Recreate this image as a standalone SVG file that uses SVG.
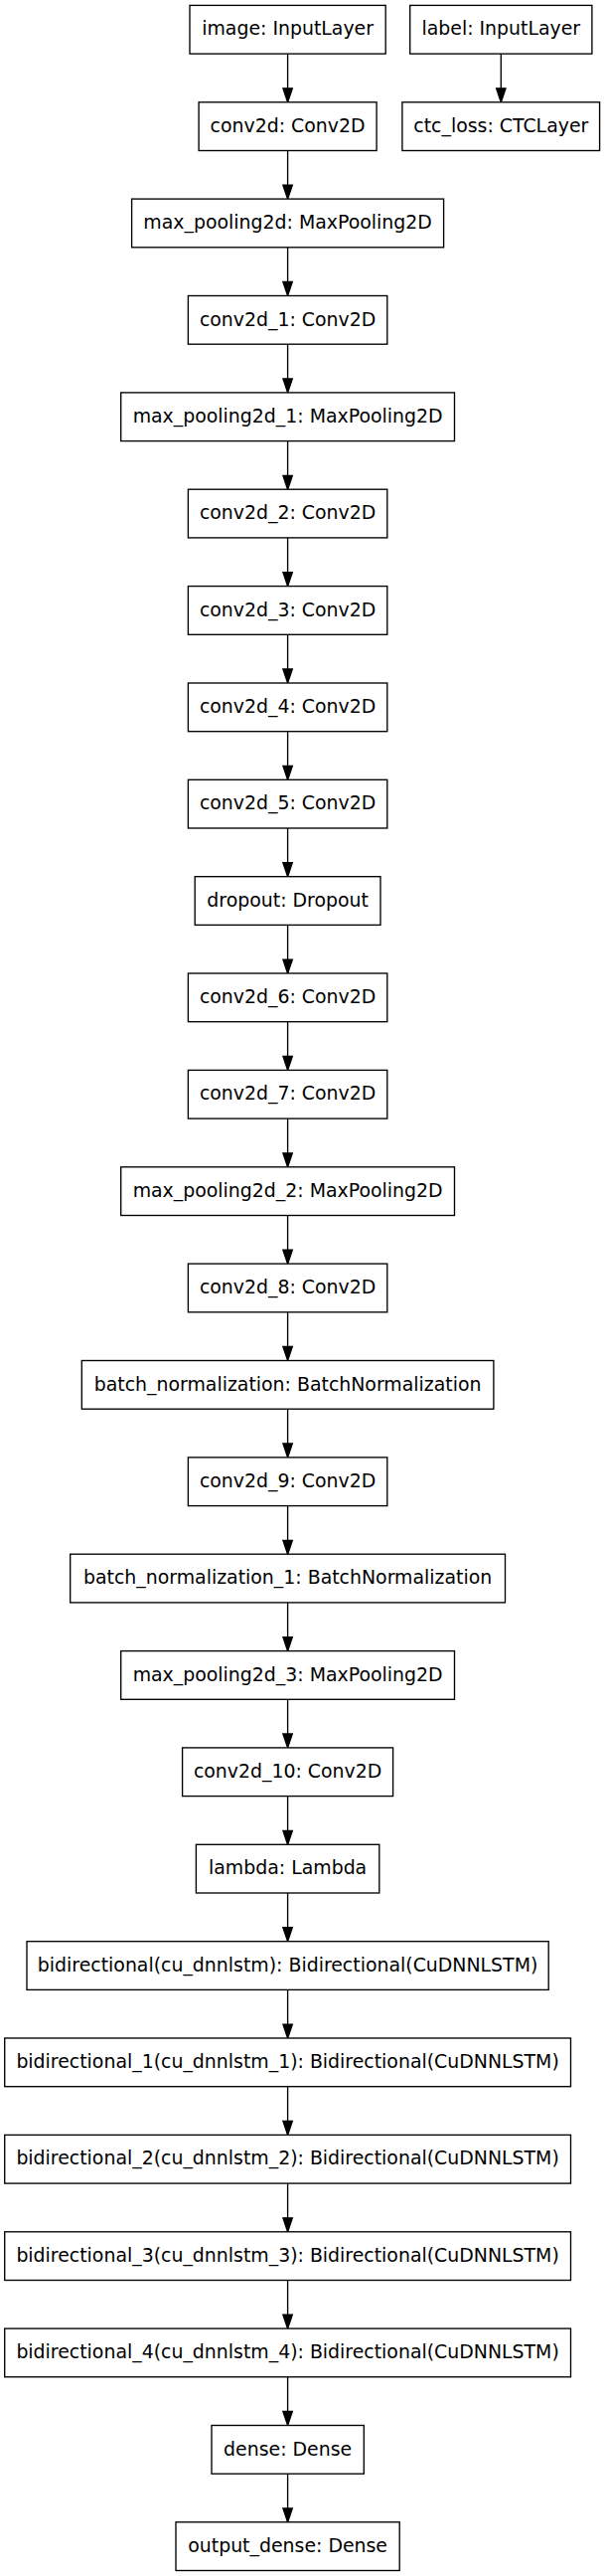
<svg xmlns="http://www.w3.org/2000/svg" width="609" height="2591" viewBox="0 0 609 2591">
<defs>
<style>
rect{fill:#fff;stroke:#000;stroke-width:1.35}
text{font-family:"DejaVu Sans","Liberation Sans",sans-serif;font-size:18.9px;fill:#000;text-anchor:middle}
.e line{stroke:#000;stroke-width:1.35}
.e polygon{fill:#000;stroke:#000;stroke-width:1.35}
</style>
</defs>
<rect x="0" y="0" width="609" height="2591" style="fill:#fff;stroke:none"/>
<g class="e" id="edges">
<line x1="289.6" y1="54.1" x2="289.6" y2="88.8"/><polygon points="284.9,88.8 289.6,102.8 294.3,88.8"/>
<line x1="504.3" y1="54.1" x2="504.3" y2="88.8"/><polygon points="499.6,88.8 504.3,102.8 509,88.8"/>
<line x1="289.6" y1="151.5" x2="289.6" y2="186.2"/><polygon points="284.9,186.2 289.6,200.2 294.3,186.2"/>
<line x1="289.6" y1="248.8" x2="289.6" y2="283.5"/><polygon points="284.9,283.5 289.6,297.5 294.3,283.5"/>
<line x1="289.6" y1="346.2" x2="289.6" y2="380.9"/><polygon points="284.9,380.9 289.6,394.9 294.3,380.9"/>
<line x1="289.6" y1="443.6" x2="289.6" y2="478.3"/><polygon points="284.9,478.3 289.6,492.3 294.3,478.3"/>
<line x1="289.6" y1="540.9" x2="289.6" y2="575.6"/><polygon points="284.9,575.6 289.6,589.6 294.3,575.6"/>
<line x1="289.6" y1="638.3" x2="289.6" y2="673"/><polygon points="284.9,673 289.6,687 294.3,673"/>
<line x1="289.6" y1="735.7" x2="289.6" y2="770.4"/><polygon points="284.9,770.4 289.6,784.4 294.3,770.4"/>
<line x1="289.6" y1="833" x2="289.6" y2="867.7"/><polygon points="284.9,867.7 289.6,881.7 294.3,867.7"/>
<line x1="289.6" y1="930.4" x2="289.6" y2="965.1"/><polygon points="284.9,965.1 289.6,979.1 294.3,965.1"/>
<line x1="289.6" y1="1027.7" x2="289.6" y2="1062.4"/><polygon points="284.9,1062.4 289.6,1076.4 294.3,1062.4"/>
<line x1="289.6" y1="1125.1" x2="289.6" y2="1159.8"/><polygon points="284.9,1159.8 289.6,1173.8 294.3,1159.8"/>
<line x1="289.6" y1="1222.5" x2="289.6" y2="1257.2"/><polygon points="284.9,1257.2 289.6,1271.2 294.3,1257.2"/>
<line x1="289.6" y1="1319.8" x2="289.6" y2="1354.5"/><polygon points="284.9,1354.5 289.6,1368.5 294.3,1354.5"/>
<line x1="289.6" y1="1417.2" x2="289.6" y2="1451.9"/><polygon points="284.9,1451.9 289.6,1465.9 294.3,1451.9"/>
<line x1="289.6" y1="1514.6" x2="289.6" y2="1549.3"/><polygon points="284.9,1549.3 289.6,1563.3 294.3,1549.3"/>
<line x1="289.6" y1="1611.9" x2="289.6" y2="1646.6"/><polygon points="284.9,1646.6 289.6,1660.6 294.3,1646.6"/>
<line x1="289.6" y1="1709.3" x2="289.6" y2="1744"/><polygon points="284.9,1744 289.6,1758 294.3,1744"/>
<line x1="289.6" y1="1806.6" x2="289.6" y2="1841.3"/><polygon points="284.9,1841.3 289.6,1855.3 294.3,1841.3"/>
<line x1="289.6" y1="1904" x2="289.6" y2="1938.7"/><polygon points="284.9,1938.7 289.6,1952.7 294.3,1938.7"/>
<line x1="289.6" y1="2001.4" x2="289.6" y2="2036.1"/><polygon points="284.9,2036.1 289.6,2050.1 294.3,2036.1"/>
<line x1="289.6" y1="2098.7" x2="289.6" y2="2133.4"/><polygon points="284.9,2133.4 289.6,2147.4 294.3,2133.4"/>
<line x1="289.6" y1="2196.1" x2="289.6" y2="2230.8"/><polygon points="284.9,2230.8 289.6,2244.8 294.3,2230.8"/>
<line x1="289.6" y1="2293.5" x2="289.6" y2="2328.2"/><polygon points="284.9,2328.2 289.6,2342.2 294.3,2328.2"/>
<line x1="289.6" y1="2390.8" x2="289.6" y2="2425.5"/><polygon points="284.9,2425.5 289.6,2439.5 294.3,2425.5"/>
<line x1="289.6" y1="2488.2" x2="289.6" y2="2522.9"/><polygon points="284.9,2522.9 289.6,2536.9 294.3,2522.9"/>
</g>
<g id="image"><rect x="191" y="5.4" width="197.2" height="48.7"/><text x="289.6" y="35.4">image: InputLayer</text></g>
<g id="label"><rect x="412.7" y="5.4" width="183.2" height="48.7"/><text x="504.3" y="35.4">label: InputLayer</text></g>
<g id="conv2d"><rect x="200.1" y="102.8" width="179" height="48.7"/><text x="289.6" y="132.8">conv2d: Conv2D</text></g>
<g id="ctc_loss"><rect x="404.9" y="102.8" width="198.7" height="48.7"/><text x="504.3" y="132.8">ctc_loss: CTCLayer</text></g>
<g id="max_pooling2d"><rect x="132.6" y="200.1" width="314" height="48.7"/><text x="289.6" y="230.1">max_pooling2d: MaxPooling2D</text></g>
<g id="conv2d_1"><rect x="189.4" y="297.5" width="200.4" height="48.7"/><text x="289.6" y="327.5">conv2d_1: Conv2D</text></g>
<g id="max_pooling2d_1"><rect x="121.7" y="394.9" width="335.8" height="48.7"/><text x="289.6" y="424.9">max_pooling2d_1: MaxPooling2D</text></g>
<g id="conv2d_2"><rect x="189.4" y="492.2" width="200.4" height="48.7"/><text x="289.6" y="522.2">conv2d_2: Conv2D</text></g>
<g id="conv2d_3"><rect x="189.4" y="589.6" width="200.4" height="48.7"/><text x="289.6" y="619.6">conv2d_3: Conv2D</text></g>
<g id="conv2d_4"><rect x="189.4" y="687" width="200.4" height="48.7"/><text x="289.6" y="717">conv2d_4: Conv2D</text></g>
<g id="conv2d_5"><rect x="189.4" y="784.3" width="200.4" height="48.7"/><text x="289.6" y="814.3">conv2d_5: Conv2D</text></g>
<g id="dropout"><rect x="196.2" y="881.7" width="186.8" height="48.7"/><text x="289.6" y="911.7">dropout: Dropout</text></g>
<g id="conv2d_6"><rect x="189.4" y="979" width="200.4" height="48.7"/><text x="289.6" y="1009">conv2d_6: Conv2D</text></g>
<g id="conv2d_7"><rect x="189.4" y="1076.4" width="200.4" height="48.7"/><text x="289.6" y="1106.4">conv2d_7: Conv2D</text></g>
<g id="max_pooling2d_2"><rect x="121.7" y="1173.8" width="335.8" height="48.7"/><text x="289.6" y="1203.8">max_pooling2d_2: MaxPooling2D</text></g>
<g id="conv2d_8"><rect x="189.4" y="1271.1" width="200.4" height="48.7"/><text x="289.6" y="1301.1">conv2d_8: Conv2D</text></g>
<g id="batch_normalization"><rect x="82.3" y="1368.5" width="414.6" height="48.7"/><text x="289.6" y="1398.5">batch_normalization: BatchNormalization</text></g>
<g id="conv2d_9"><rect x="189.4" y="1465.9" width="200.4" height="48.7"/><text x="289.6" y="1495.9">conv2d_9: Conv2D</text></g>
<g id="batch_normalization_1"><rect x="70.7" y="1563.2" width="437.8" height="48.7"/><text x="289.6" y="1593.2">batch_normalization_1: BatchNormalization</text></g>
<g id="max_pooling2d_3"><rect x="121.7" y="1660.6" width="335.8" height="48.7"/><text x="289.6" y="1690.6">max_pooling2d_3: MaxPooling2D</text></g>
<g id="conv2d_10"><rect x="183.6" y="1757.9" width="212" height="48.7"/><text x="289.6" y="1787.9">conv2d_10: Conv2D</text></g>
<g id="lambda"><rect x="197.4" y="1855.3" width="184.4" height="48.7"/><text x="289.6" y="1885.3">lambda: Lambda</text></g>
<g id="bidirectional"><rect x="27" y="1952.7" width="525.2" height="48.7"/><text x="289.6" y="1982.7">bidirectional(cu_dnnlstm): Bidirectional(CuDNNLSTM)</text></g>
<g id="bidirectional_1"><rect x="4.7" y="2050" width="569.8" height="48.7"/><text x="289.6" y="2080">bidirectional_1(cu_dnnlstm_1): Bidirectional(CuDNNLSTM)</text></g>
<g id="bidirectional_2"><rect x="4.7" y="2147.4" width="569.8" height="48.7"/><text x="289.6" y="2177.4">bidirectional_2(cu_dnnlstm_2): Bidirectional(CuDNNLSTM)</text></g>
<g id="bidirectional_3"><rect x="4.7" y="2244.8" width="569.8" height="48.7"/><text x="289.6" y="2274.8">bidirectional_3(cu_dnnlstm_3): Bidirectional(CuDNNLSTM)</text></g>
<g id="bidirectional_4"><rect x="4.7" y="2342.1" width="569.8" height="48.7"/><text x="289.6" y="2372.1">bidirectional_4(cu_dnnlstm_4): Bidirectional(CuDNNLSTM)</text></g>
<g id="dense"><rect x="213" y="2439.5" width="153.3" height="48.7"/><text x="289.6" y="2469.5">dense: Dense</text></g>
<g id="output_dense"><rect x="177" y="2536.8" width="225.2" height="48.7"/><text x="289.6" y="2566.8">output_dense: Dense</text></g>
</svg>
